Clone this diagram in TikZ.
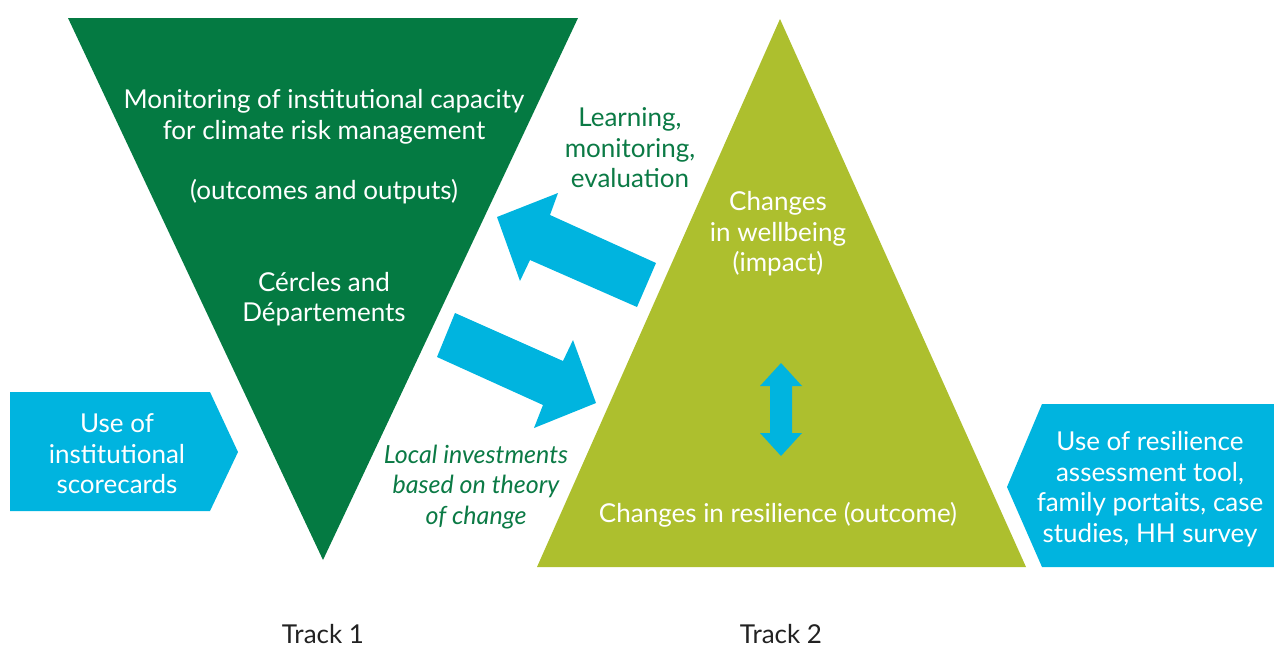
\documentclass[tikz,border=0pt]{standalone}
\usepackage{fontspec}
\setmainfont{Lato}
\definecolor{trackgreen}{HTML}{047A42}
\definecolor{leafgreen}{HTML}{ADBF2E}
\definecolor{skyblue}{HTML}{00B4DF}
\definecolor{labelgreen}{HTML}{0B7A45}
\definecolor{tracktext}{HTML}{222222}
\begin{document}
\begin{tikzpicture}[x=1pt,y=-1pt,
  body/.style={font=\fontsize{26}{30.5}\selectfont, align=center, inner sep=0pt},
  whitetext/.style={body, text=white},
  greentext/.style={body, text=labelgreen},
  tracklabel/.style={body, text=tracktext, font=\fontsize{26}{30}\selectfont\addfontfeatures{Weight=Light}},
  blockarrow/.style={fill=skyblue, draw=none}]
\useasboundingbox (0,0) rectangle (1274,648);

% Track 1: inverted triangle
\fill[trackgreen] (68,18) -- (578,18) -- (323,560) -- cycle;
% Track 2: upright triangle
\fill[leafgreen] (780,19) -- (1026,567) -- (537,567) -- cycle;

% input boxes
\fill[skyblue] (10,392) -- (210,392) -- (238,452) -- (210,511) -- (10,511) -- cycle;
\fill[skyblue] (1274,404) -- (1042,404) -- (1007,487) -- (1042,567) -- (1274,567) -- cycle;

% feedback arrow (Track 2 -> Track 1)
\fill[blockarrow] (497,217) -- (558,193) -- (550,215) -- (656,263) -- (637,307) -- (530,260) -- (520,281) -- cycle;
% investment arrow (Track 1 -> Track 2)
\fill[blockarrow] (455,313) -- (563,361) -- (573,340) -- (596,403) -- (534,428) -- (543,405) -- (437,357) -- cycle;
% two-way arrow inside Track 2
\fill[blockarrow] (781,363) -- (802,386) -- (792,386) -- (792,433) -- (802,433) -- (781,456)
  -- (760,433) -- (770,433) -- (770,386) -- (760,386) -- cycle;

% texts
\node[whitetext] (mon) at (324,117) {Monitoring of institutional capacity\\for climate risk management};
\node[whitetext] (out) at (324,192) {(outcomes and outputs)};
\node[whitetext] (cer) at (324,299) {Cércles and\\Départements};
\node[greentext] (lme) at (630,148) {Learning,\\monitoring,\\evaluation};
\node[whitetext] (wel) at (778,234) {Changes\\in wellbeing\\(impact)};
\node[whitetext] (res) at (778,515) {Changes in resilience (outcome)};
\node[greentext, font=\fontsize{25}{30.5}\selectfont\itshape] (inv) at (476,487) {Local investments\\based on theory\\of change};
\node[whitetext] (sco) at (117,454) {Use of\\institutional\\scorecards};
\node[whitetext] (rat) at (1150,489) {Use of resilience\\assessment tool,\\family portaits, case\\studies, HH survey};
\node[tracklabel] (t1) at (323,634) {Track 1};
\node[tracklabel] (t2) at (781,634) {Track 2};
\end{tikzpicture}
\end{document}
